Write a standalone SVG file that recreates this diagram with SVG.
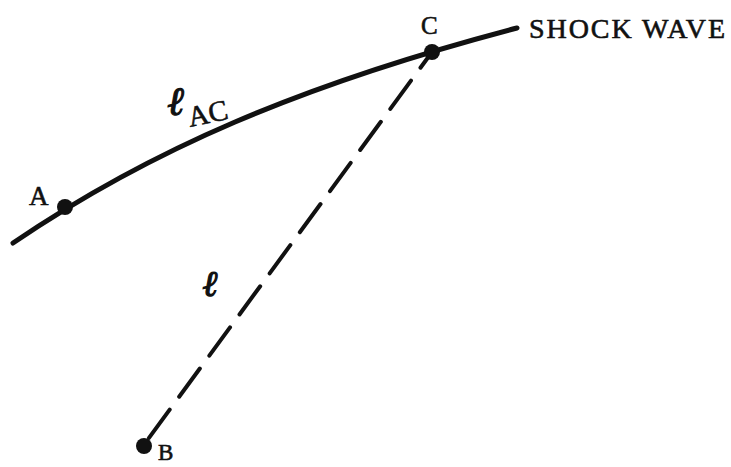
<svg xmlns="http://www.w3.org/2000/svg" width="731" height="467" viewBox="0 0 731 467">
<style>
.lbl{font-family:"Liberation Serif","Times New Roman",serif;fill:#111;stroke:#111;stroke-width:0.6;}
.ell{font-family:"DejaVu Serif","Liberation Serif",serif;font-style:italic;font-weight:bold;fill:#111;stroke:#111;stroke-width:1.2;}
.dot{fill:#111;}
</style>
<rect width="731" height="467" fill="#fff"/>
<g id="connectors">
<path id="shock" d="M13,243 C150,150 300,85 517,28" fill="none" stroke="#111" stroke-width="5" stroke-linecap="round"/>
<line id="CB" x1="432" y1="52" x2="143" y2="446" stroke="#111" stroke-width="4" stroke-dasharray="35 16" stroke-dashoffset="15.5" stroke-linecap="round"/>
</g>
<g id="nodeA"><circle class="dot" cx="65" cy="207" r="8"/><text class="lbl" x="29" y="205" font-size="27">A</text></g>
<g id="nodeC"><circle class="dot" cx="432" cy="52" r="8"/><text class="lbl" x="421" y="34" font-size="25">C</text></g>
<g id="nodeB"><circle class="dot" cx="144" cy="446" r="8"/><text class="lbl" x="158" y="460" font-size="23">B</text></g>
<g id="label-shock"><text class="lbl" x="529" y="38" font-size="28" textLength="196" lengthAdjust="spacing">SHOCK WAVE</text></g>
<g id="label-lac"><text class="ell" x="168" y="115" font-size="40">ℓ</text><text class="lbl" x="190" y="127" font-size="29" transform="rotate(-12 190 127)">AC</text></g>
<g id="label-l"><text class="ell" x="203" y="296" font-size="36">ℓ</text></g>
</svg>
